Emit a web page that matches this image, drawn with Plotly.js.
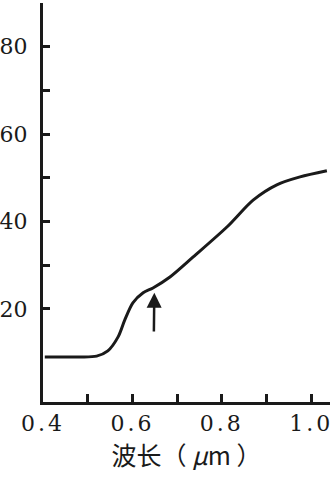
<!DOCTYPE html>
<html>
<head>
<meta charset="utf-8">
<script src="https://cdn.plot.ly/plotly-3.0.1.min.js"></script>
<style>
html,body{margin:0;padding:0;background:#fff;}
#chart{width:332px;height:477px;}
#chart .xtick text{letter-spacing:3px;}
</style>
</head>
<body>
<div id="chart"></div>
<script>
// wavelength (μm)
var wavelength = [0.404, 0.483, 0.520, 0.545, 0.568, 0.583, 0.601, 0.624, 0.646, 0.684, 0.736, 0.812, 0.870, 0.923, 0.975, 1.035];
// curve values
var values = [9.0, 9.0, 9.2, 10.4, 13.6, 17.5, 21.4, 23.7, 24.8, 27.3, 31.9, 38.8, 44.9, 48.4, 50.2, 51.6];
// arrow marker (tail -> tip)
var arrowX = [0.648, 0.649];
var arrowY = [14.5, 23.7];
// ticks
var yTickVals = [20, 30, 40, 50, 60, 70, 80];
var yTickText = ['20', '', '40', '', '60', '', '80'];
var xTickVals = [0.4, 0.5, 0.6, 0.7, 0.8, 0.9, 1.0];
var xTickText = ['0.4', '', '0.6', '', '0.8', '', '1.0'];
var xTitle = '波长（ <i>μ</i>m ）';

var serif = 'DejaVu Serif';

var trace = {
  x: wavelength, y: values, mode: 'lines', type: 'scatter',
  line: {color: '#1a1a1a', width: 3, shape: 'spline', smoothing: 0.8},
  hoverinfo: 'skip', showlegend: false
};

var layout = {
  width: 332, height: 477,
  margin: {l: 43, r: 2, t: 3, b: 75},
  paper_bgcolor: '#ffffff', plot_bgcolor: '#ffffff',
  font: {family: serif, color: '#1a1a1a', size: 22},
  xaxis: {
    range: [0.4, 1.042], showgrid: false, zeroline: false,
    showline: true, linecolor: '#1a1a1a', linewidth: 3,
    ticks: 'inside', ticklen: 8, tickwidth: 3, tickcolor: '#1a1a1a',
    tickvals: xTickVals, ticktext: xTickText,
    tickfont: {family: serif, size: 22, color: '#1a1a1a'},
    ticklabelstandoff: 0,
    title: {text: xTitle, font: {family: 'Noto Sans CJK SC', size: 25, color: '#1a1a1a'}, standoff: 11}
  },
  yaxis: {
    range: [-1.3, 90], showgrid: false, zeroline: false,
    showline: true, linecolor: '#1a1a1a', linewidth: 3,
    ticks: 'inside', ticklen: 7, tickwidth: 3, tickcolor: '#1a1a1a',
    tickvals: yTickVals, ticktext: yTickText,
    tickfont: {family: serif, size: 22, color: '#1a1a1a'},
    ticklabelstandoff: 8
  },
  annotations: [{
    x: arrowX[1], y: arrowY[1], ax: arrowX[0], ay: arrowY[0],
    xref: 'x', yref: 'y', axref: 'x', ayref: 'y',
    showarrow: true, arrowhead: 2, arrowsize: 1.2, arrowwidth: 2.5, arrowcolor: '#1a1a1a', text: ''
  }]
};

Plotly.newPlot('chart', [trace], layout, {staticPlot: true, displayModeBar: false});
</script>
</body>
</html>
